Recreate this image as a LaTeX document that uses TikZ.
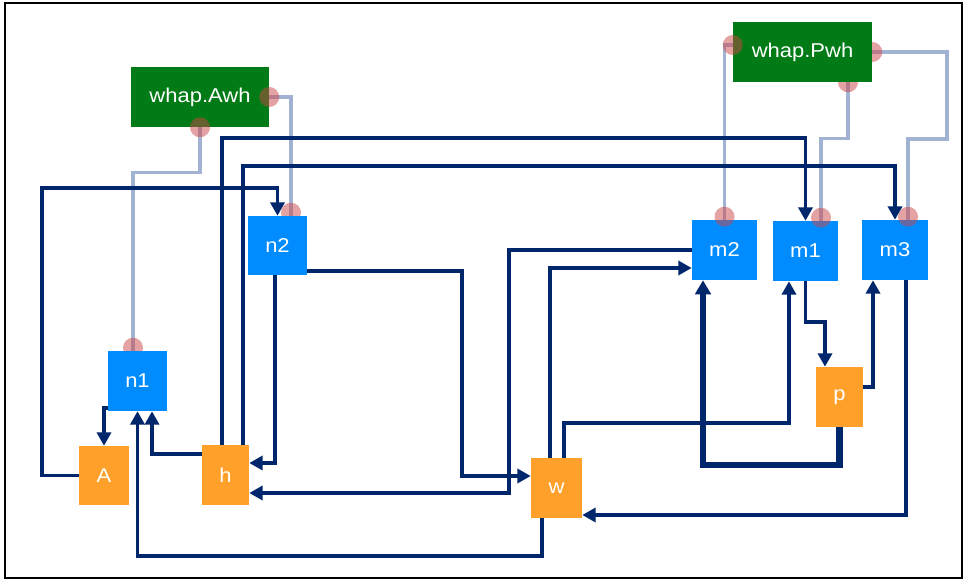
\documentclass[tikz,border=0pt]{standalone}
\usepackage{fontspec}
\setmainfont{Liberation Sans}
\usepackage{graphicx}
\usetikzlibrary{arrows.meta,calc}
\definecolor{nblue}{RGB}{0,140,255}
\definecolor{norange}{RGB}{255,160,42}
\definecolor{ngreen}{RGB}{0,123,21}
\definecolor{navy}{RGB}{0,38,108}
\definecolor{litec}{RGB}{162,178,210}
\definecolor{pinkc}{RGB}{205,70,70}
\newcommand\sx[1]{\scalebox{1.1}[1]{#1}}
\pgfdeclarelayer{bg}
\pgfsetlayers{bg,main}
\begin{document}
\begin{tikzpicture}[x=0.75pt,y=-0.75pt,
  lbl/.style={text=white,font=\fontsize{15}{17}\selectfont,inner sep=0pt},
  sz/.style 2 args={minimum width=#1*0.75pt,minimum height=#2*0.75pt},
  bnode/.style={lbl,fill=nblue},
  onode/.style={lbl,fill=norange},
  gnode/.style={lbl,fill=ngreen},
  arr/.style={draw=navy,line width=2.8pt,-{Triangle[length=10pt,width=10.5pt]}},
  thickarr/.style={draw=navy,line width=4.6pt,-{Triangle[length=10.5pt,width=11.5pt]}},
  lite/.style={draw=litec,line width=2.6pt},
  dot/.style={fill=pinkc,fill opacity=0.5}]
\begin{pgfonlayer}{bg}
\fill[white] (0,0) rectangle (964,581);
\end{pgfonlayer}
\useasboundingbox (0,0) rectangle (964,581);
\draw[line width=0.8pt] (5,3) rectangle (962,578);

% nodes
\node[gnode,sz={138}{60}] (Awh) at (200,97) {\sx{whap.Awh}};
\node[gnode,sz={139}{60}] (Pwh) at (802.5,52) {\sx{whap.Pwh}};
\node[bnode,sz={59}{59}] (n2) at (277.5,245.5) {\sx{n2}};
\node[bnode,sz={59}{60}] (n1) at (137.5,381) {\sx{n1}};
\node[bnode,sz={65}{60}] (m2) at (724.5,250) {\sx{m2}};
\node[bnode,sz={65}{60}] (m1) at (805.5,251) {\sx{m1}};
\node[bnode,sz={66}{60}] (m3) at (895,250) {\sx{m3}};
\node[onode,sz={50}{59}] (A) at (104,475.5) {\sx{A}};
\node[onode,sz={47}{60}] (h) at (225.5,475) {\sx{h}};
\node[onode,sz={51}{60}] (w) at (556.5,488) {\sx{w}};
\node[onode,sz={47}{60}] (p) at (839.5,397) {\sx{p}};

% light connectors and circles behind nodes
\begin{pgfonlayer}{bg}
\draw[lite] (Awh.south) -- ++(0,45) -| ($(n1.north)+(-4.5,0)$);
\draw[lite] (Awh.east) -| ($(n2.north)+(13.5,0)$);
\draw[lite] ($(Pwh.west)+(0,-7)$) -| (m2.north);
\draw[lite] ($(Pwh.south)+(45.5,0)$) -- ++(0,56) -| ($(m1.north)+(15.5,0)$);
\draw[lite] (Pwh.east) -| (947,139) -| ($(m3.north)+(13,0)$);
\fill[dot] ($(n1.north)+(-4.5,-3)$) circle[radius=10];
\fill[dot] ($(n2.north)+(13.5,-3)$) circle[radius=10];
\fill[dot] (Pwh.east) circle[radius=10];
\fill[dot] ($(Pwh.south)+(45.5,0)$) circle[radius=10];
\end{pgfonlayer}

% circles in front of nodes
\fill[dot] (Awh.south) circle[radius=10];
\fill[dot] (Awh.east) circle[radius=10];
\fill[dot] ($(Pwh.west)+(0,-7)$) circle[radius=10];
\fill[dot] ($(m2.north)+(0,-3)$) circle[radius=10];
\fill[dot] ($(m1.north)+(15.5,-3)$) circle[radius=10];
\fill[dot] ($(m3.north)+(13,-3)$) circle[radius=10];

% dark connectors
\draw[arr] (A.west) -| (42,188) -| (n2.north);
\draw[arr] ($(n1.south west)+(0,-3)$) -| (A.north);
\draw[arr] ($(h.north west)+(0,9)$) -| ($(n1.south)+(14.5,0)$);
\draw[arr] ($(w.south)+(-14.5,0)$) -- ++(0,38) -| (n1.south);
\draw[arr] ($(n2.south)+(-2.5,0)$) |- ($(h.east)+(0,-12)$);
\draw[arr] (m2.west) -| (509,493) -- ($(h.east)+(0,18)$);
\draw[arr] ($(n2.south east)+(0,-4.5)$) -| (462,476) -- ($(w.west)+(0,-12)$);
\draw[arr] ($(w.north)+(-6.5,0)$) |- ($(m2.west)+(0,18)$);
\draw[arr] ($(w.north)+(7.5,0)$) -- ++(0,-35) -| ($(m1.south)+(-16.5,0)$);
\draw[thickarr] (p.south) -- ++(0,38) -| ($(m2.south)+(-21.5,0)$);
\draw[arr] (m1.south) -- ++(0,41) -| ($(p.north)+(-14.5,0)$);
\draw[arr] ($(p.east)+(0,-10)$) -| ($(m3.south)+(-22,0)$);
\draw[arr] ($(m3.south)+(11,0)$) |- ($(w.east)+(0,27)$);
\draw[arr] ($(h.north)+(-3.5,0)$) |- ($(m1.north)+(0,-83)$) -- (m1.north);
\draw[arr] ($(h.north)+(17.5,0)$) |- ($(m3.north)+(0,-54)$) -- (m3.north);
\end{tikzpicture}
\end{document}
